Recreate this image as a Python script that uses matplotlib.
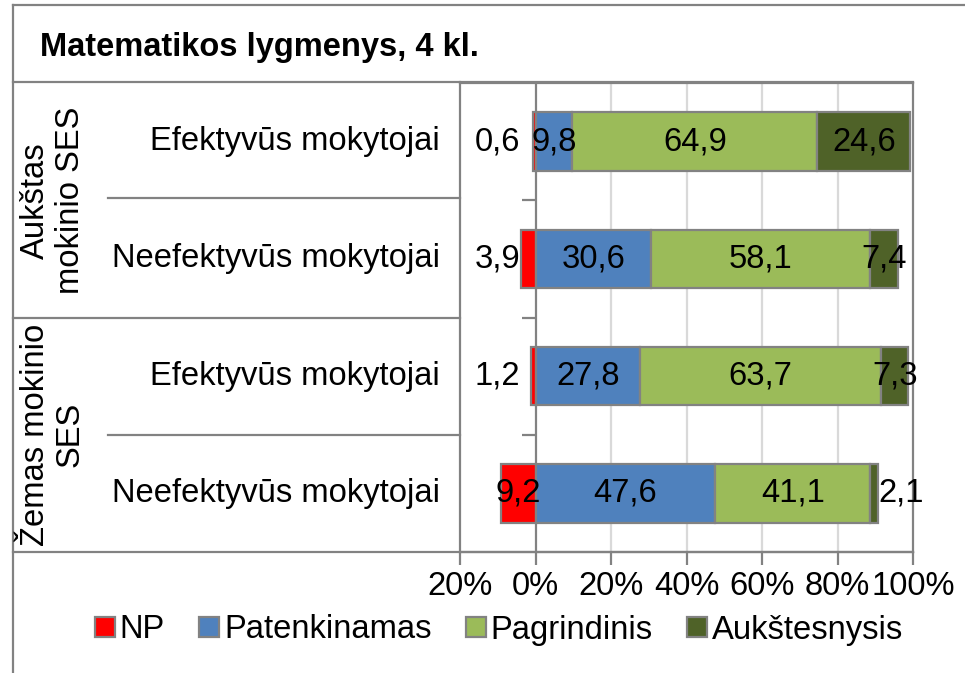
import matplotlib
matplotlib.use('Agg')
import matplotlib.pyplot as plt
from matplotlib.lines import Line2D
from matplotlib.patches import Patch
from matplotlib.transforms import blended_transform_factory

plt.rcParams['font.family'] = ['Liberation Sans', 'DejaVu Sans']

# data (percent), rows top to bottom
title = 'Matematikos lygmenys, 4 kl.'
rows = ['Efektyvūs mokytojai', 'Neefektyvūs mokytojai',
        'Efektyvūs mokytojai', 'Neefektyvūs mokytojai']
groups = ['Aukštas\nmokinio SES', 'Žemas mokinio\nSES']
series = ['NP', 'Patenkinamas', 'Pagrindinis', 'Aukštesnysis']
np_vals = [0.6, 3.9, 1.2, 9.2]
patenk = [9.8, 30.6, 27.8, 47.6]
pagrind = [64.9, 58.1, 63.7, 41.1]
auksc = [24.6, 7.4, 7.3, 2.1]
xticks = [-20, 0, 20, 40, 60, 80, 100]
xticklabels = ['20%', '0%', '20%', '40%', '60%', '80%', '100%']

colors = ['#FF0000', '#4F81BD', '#9BBB59', '#4F6228']
edge = '#828282'
grid_c = '#D9D9D9'
FS = 23.6

W, H = 965, 673
fig = plt.figure(figsize=(W / 100, H / 100), dpi=100)

def fx(px):
    return px / W

def fy(py):
    return 1 - py / H

ax = fig.add_axes([fx(460), fy(552), fx(913) - fx(460), fy(83) - fy(552)])

y = list(range(len(rows)))
bh = 0.5
ax.barh(y, [-v for v in np_vals], height=bh, color=colors[0], edgecolor=edge, linewidth=1.6, zorder=3)
ax.barh(y, patenk, height=bh, color=colors[1], edgecolor=edge, linewidth=1.6, zorder=3)
left2 = patenk
ax.barh(y, pagrind, left=left2, height=bh, color=colors[2], edgecolor=edge, linewidth=1.6, zorder=3)
left3 = [a + b for a, b in zip(patenk, pagrind)]
ax.barh(y, auksc, left=left3, height=bh, color=colors[3], edgecolor=edge, linewidth=1.6, zorder=3)

def fmt(v):
    return ('%.1f' % v).replace('.', ',')

for i in y:
    # NP labels: small ones sit left of the bar
    if np_vals[i] < 5:
        ax.text(-4, i, fmt(np_vals[i]), ha='right', va='center', fontsize=FS, zorder=5)
    else:
        ax.text(-np_vals[i] / 2, i, fmt(np_vals[i]), ha='center', va='center', fontsize=FS, zorder=5)
    ax.text(patenk[i] / 2, i, fmt(patenk[i]), ha='center', va='center', fontsize=FS, zorder=5)
    ax.text(left2[i] + pagrind[i] / 2, i, fmt(pagrind[i]), ha='center', va='center', fontsize=FS, zorder=5)
    if auksc[i] < 3:
        ax.text(left3[i] + auksc[i], i, fmt(auksc[i]), ha='left', va='center', fontsize=FS, zorder=5)
    else:
        ax.text(left3[i] + auksc[i] / 2, i, fmt(auksc[i]), ha='center', va='center', fontsize=FS, zorder=5)

ax.set_xlim(-20, 100)
ax.set_ylim(len(rows) - 0.5, -0.5)
ax.set_xticks(xticks)
ax.set_xticklabels(xticklabels, fontsize=FS)
ax.tick_params(axis='x', length=9, width=1.6, color=edge, pad=5)
for t in xticks[2:-1]:
    ax.axvline(t, color=grid_c, linewidth=1.6, zorder=1)

# vertical axis at 0 with ticks between categories
ax.spines['left'].set_position(('data', 0))
ax.spines['left'].set_color(edge)
ax.spines['left'].set_linewidth(1.6)
ax.spines['left'].set_zorder(2)
ax.set_yticks([0.5, 1.5, 2.5])
ax.set_yticklabels([])
ax.tick_params(axis='y', length=10, width=1.6, color=edge, direction='out')
for s in ['right', 'bottom', 'top']:
    ax.spines[s].set_color(edge)
    ax.spines[s].set_linewidth(1.6)

# table lines on the left, outer frame
def fline(x0, y0, x1, y1, lw=1.6):
    fig.add_artist(Line2D([fx(x0), fx(x1)], [fy(y0), fy(y1)], color=edge, linewidth=lw))

fline(13, 5, W, 5)
fline(13, 5, 13, H)
fline(13, 82, 913, 82)
fline(460, 82, 460, 552)
fline(13, 552, 913, 552)
fline(13, 318, 460, 318)
fline(108, 198, 460, 198)
fline(108, 435, 460, 435)

fig.text(fx(40), fy(56), title, fontsize=23.5, fontweight='bold', va='baseline')

tr = blended_transform_factory(fig.transFigure, ax.transData)
for i, lab in enumerate(rows):
    fig.text(fx(440), i, lab, transform=tr, ha='right', va='center', fontsize=FS)
for g, lab in enumerate(groups):
    fig.text(fx(53), 2 * g + 0.5, lab, transform=tr, ha='center', va='center',
             rotation=90, fontsize=FS, multialignment='center', linespacing=1.15)

handles = [Patch(facecolor=c, edgecolor=edge, linewidth=1.6) for c in colors]
fig.legend(handles, series, loc='center', bbox_to_anchor=(fx(499), fy(630)), ncol=4,
           frameon=False, fontsize=FS, handlelength=0.6, handleheight=0.6,
           handletextpad=0.15, columnspacing=1.05, borderaxespad=0)

fig.savefig('out.png', dpi=100)
